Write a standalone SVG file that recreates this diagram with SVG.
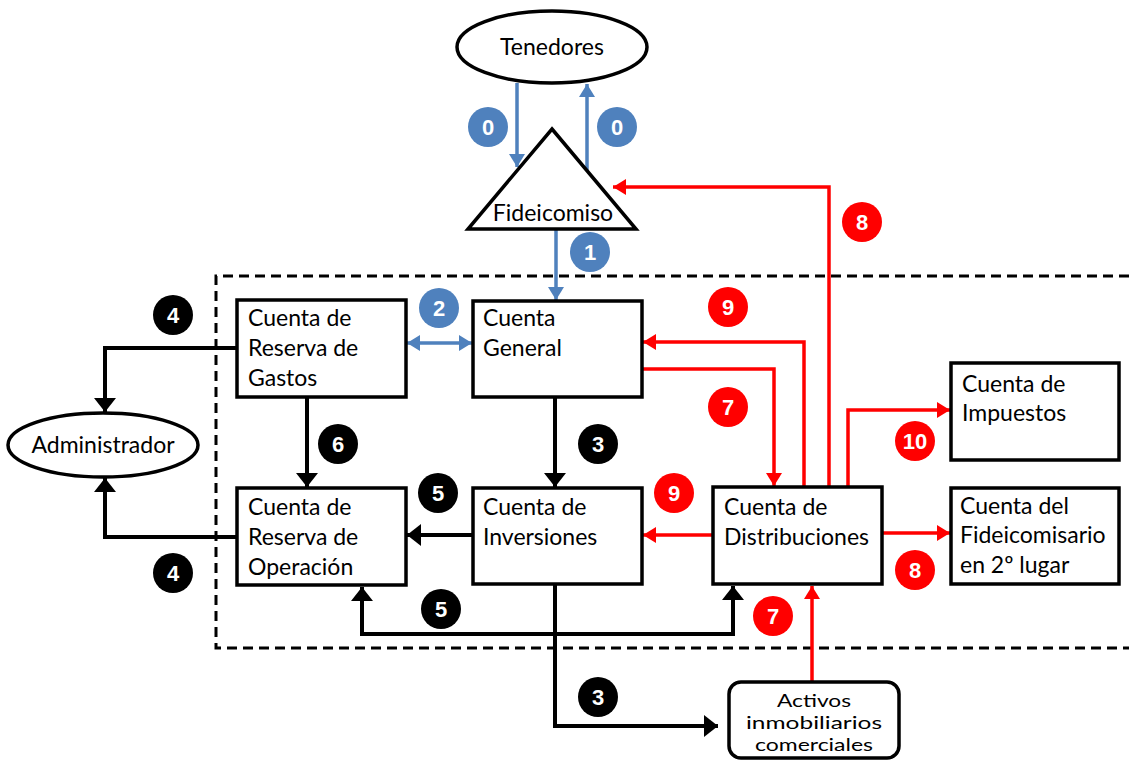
<svg xmlns="http://www.w3.org/2000/svg" width="1129" height="762" viewBox="0 0 1129 762">
<style>
.box{fill:#fff;stroke:#000;stroke-width:3.5}
.t{font-family:Lato,"Liberation Sans",sans-serif;font-size:23px;fill:#000}
.ts{font-size:18px}
.tc{text-anchor:middle}
.bl{fill:none;stroke:#4F81BD;stroke-width:3.5}
.bk{fill:none;stroke:#000;stroke-width:4}
.rd{fill:none;stroke:#FF0000;stroke-width:3.5}
.n{font-family:"Liberation Sans",Arial,sans-serif;font-weight:bold;font-size:22px;fill:#fff;text-anchor:middle}
.cb{fill:#4F81BD}.ck{fill:#000}.cr{fill:#FF0000}
.dash{fill:none;stroke:#000;stroke-width:3;stroke-dasharray:10 6}
</style>
<defs>
<marker id="mk" markerUnits="userSpaceOnUse" markerWidth="16" markerHeight="24" refX="14" refY="11" orient="auto"><path d="M0,0 L14,11 L0,22 z" fill="#000"/></marker>
<marker id="mr" markerUnits="userSpaceOnUse" markerWidth="14" markerHeight="18" refX="13" refY="8" orient="auto"><path d="M0,0 L13,8 L0,16 z" fill="#FF0000"/></marker>
<marker id="mb" markerUnits="userSpaceOnUse" markerWidth="14" markerHeight="18" refX="13" refY="8" orient="auto"><path d="M0,0 L13,8 L0,16 z" fill="#4F81BD"/></marker>
<marker id="mbs" markerUnits="userSpaceOnUse" markerWidth="14" markerHeight="18" refX="13" refY="8" orient="auto-start-reverse"><path d="M0,0 L13,8 L0,16 z" fill="#4F81BD"/></marker>
</defs>
<rect width="1129" height="762" fill="#fff"/>
<path class="dash" d="M1129,276 H216 V648 H1129"/>

<g id="connectors">
<path class="bl" d="M517,83 V167" marker-end="url(#mb)"/>
<path class="bl" d="M587,171 V84" marker-end="url(#mb)"/>
<path class="bl" d="M556,229 V300" marker-end="url(#mb)"/>
<path class="bl" d="M407,343 H472" marker-start="url(#mbs)" marker-end="url(#mbs)"/>
<path class="bk" d="M237,348 H105 V412" marker-end="url(#mk)"/>
<path class="bk" d="M237,537 H105 V478" marker-end="url(#mk)"/>
<path class="bk" d="M307,397 V487" marker-end="url(#mk)"/>
<path class="bk" d="M555,397 V487" marker-end="url(#mk)"/>
<path class="bk" d="M473,535 H407" marker-end="url(#mk)"/>
<path class="bk" d="M556,634 H362 V587" marker-end="url(#mk)"/>
<path class="bk" d="M556,634 H733 V586" marker-end="url(#mk)"/>
<path class="bk" d="M555,584 V726 H718" marker-end="url(#mk)"/>
<path class="rd" d="M804,487 V342 H643" marker-end="url(#mr)"/>
<path class="rd" d="M642,369 H774 V486" marker-end="url(#mr)"/>
<path class="rd" d="M829,487 V187 H613" marker-end="url(#mr)"/>
<path class="rd" d="M848,487 V410 H950" marker-end="url(#mr)"/>
<path class="rd" d="M713,535 H643" marker-end="url(#mr)"/>
<path class="rd" d="M882,533 H950" marker-end="url(#mr)"/>
<path class="rd" d="M812,682 V586" marker-end="url(#mr)"/>
</g>

<g id="tenedores"><ellipse cx="552" cy="47" rx="95" ry="36" class="box"/><text class="t tc" x="552" y="55">Tenedores</text></g>
<g id="fideicomiso"><polygon points="552,129 636,229 468,229" class="box"/><text class="t tc" x="553" y="221">Fideicomiso</text></g>
<g id="administrador"><ellipse cx="103" cy="445" rx="95" ry="32" class="box"/><text class="t tc" x="103" y="453">Administrador</text></g>
<g id="gastos"><rect x="237" y="300" width="169" height="97" class="box"/><text class="t" x="248" y="326">Cuenta de</text><text class="t" x="248" y="356">Reserva de</text><text class="t" x="248" y="386">Gastos</text></g>
<g id="general"><rect x="473" y="301" width="169" height="96" class="box"/><text class="t" x="483" y="326">Cuenta</text><text class="t" x="483" y="356">General</text></g>
<g id="operacion"><rect x="237" y="488" width="169" height="97" class="box"/><text class="t" x="248" y="515">Cuenta de</text><text class="t" x="248" y="545">Reserva de</text><text class="t" x="248" y="575">Operación</text></g>
<g id="inversiones"><rect x="473" y="488" width="169" height="96" class="box"/><text class="t" x="483" y="515">Cuenta de</text><text class="t" x="483" y="545">Inversiones</text></g>
<g id="distribuciones"><rect x="713" y="487" width="169" height="97" class="box"/><text class="t" x="724" y="515">Cuenta de</text><text class="t" x="724" y="545">Distribuciones</text></g>
<g id="impuestos"><rect x="951" y="363" width="168" height="97" class="box"/><text class="t" x="962" y="392">Cuenta de</text><text class="t" x="962" y="421">Impuestos</text></g>
<g id="fideicomisario"><rect x="951" y="488" width="168" height="96" class="box"/><text class="t" x="960" y="514">Cuenta del</text><text class="t" x="960" y="543">Fideicomisario</text><text class="t" x="960" y="573">en 2º lugar</text></g>
<g id="activos"><rect x="729" y="682" width="170" height="76" rx="12" class="box"/><text class="t ts tc" x="814" y="707" textLength="74" lengthAdjust="spacingAndGlyphs">Activos</text><text class="t ts tc" x="814" y="729" textLength="136" lengthAdjust="spacingAndGlyphs">inmobiliarios</text><text class="t ts tc" x="814" y="751" textLength="118" lengthAdjust="spacingAndGlyphs">comerciales</text></g>

<g id="labels">
<circle class="cb" cx="488" cy="127" r="20"/><text class="n" x="488" y="135">0</text>
<circle class="cb" cx="617" cy="127" r="20"/><text class="n" x="617" y="135">0</text>
<circle class="cb" cx="590" cy="252" r="20"/><text class="n" x="590" y="260">1</text>
<circle class="cb" cx="439" cy="308" r="20"/><text class="n" x="439" y="316">2</text>
<circle class="ck" cx="173" cy="315" r="20"/><text class="n" x="173" y="323">4</text>
<circle class="ck" cx="173" cy="573" r="20"/><text class="n" x="173" y="581">4</text>
<circle class="ck" cx="338" cy="444" r="20"/><text class="n" x="338" y="452">6</text>
<circle class="ck" cx="598" cy="444" r="20"/><text class="n" x="598" y="452">3</text>
<circle class="ck" cx="598" cy="697" r="20"/><text class="n" x="598" y="705">3</text>
<circle class="ck" cx="438" cy="493" r="20"/><text class="n" x="438" y="501">5</text>
<circle class="ck" cx="441" cy="609" r="20"/><text class="n" x="441" y="617">5</text>
<circle class="cr" cx="728" cy="307" r="20"/><text class="n" x="728" y="315">9</text>
<circle class="cr" cx="674" cy="493" r="20"/><text class="n" x="674" y="501">9</text>
<circle class="cr" cx="728" cy="407" r="20"/><text class="n" x="728" y="415">7</text>
<circle class="cr" cx="773" cy="616" r="20"/><text class="n" x="773" y="624">7</text>
<circle class="cr" cx="862" cy="222" r="20"/><text class="n" x="862" y="230">8</text>
<circle class="cr" cx="915" cy="570" r="20"/><text class="n" x="915" y="578">8</text>
<circle class="cr" cx="915" cy="441" r="20"/><text class="n" x="915" y="449">10</text>
</g>
</svg>
